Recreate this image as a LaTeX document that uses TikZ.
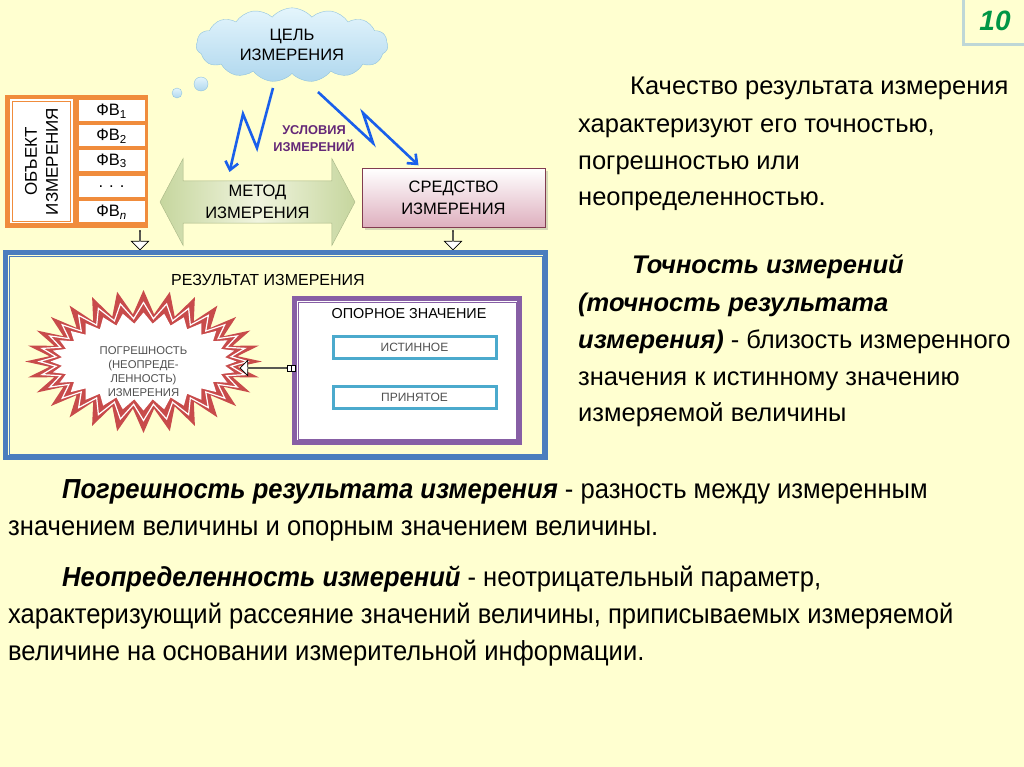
\documentclass[tikz,border=0pt]{standalone}
\usepackage{fontspec}
\setmainfont{Liberation Sans}
\newfontfamily\narrowfont[FakeStretch=0.93]{Liberation Sans}
\usetikzlibrary{arrows.meta,positioning,shapes.symbols,shapes.arrows,shadows,calc}
\definecolor{slidebg}{RGB}{255,255,208}
\definecolor{objorange}{RGB}{240,140,60}
\definecolor{zzblue}{RGB}{25,95,235}
\definecolor{condpurple}{RGB}{100,40,120}
\definecolor{resblue}{RGB}{75,125,190}
\definecolor{oporpurple}{RGB}{135,95,165}
\definecolor{valcyan}{RGB}{75,170,205}
\definecolor{errred}{RGB}{200,75,75}
\definecolor{pagegreen}{RGB}{0,150,70}
\definecolor{pageframe}{RGB}{190,215,215}
\definecolor{cloudtop}{RGB}{228,245,252}
\definecolor{cloudbot}{RGB}{175,215,238}
\definecolor{cloudline}{RGB}{145,195,222}
\definecolor{methgreen}{RGB}{198,214,158}
\definecolor{methlight}{RGB}{240,244,222}
\definecolor{toolpink}{RGB}{222,175,190}
\definecolor{toolline}{RGB}{130,60,80}
\definecolor{txtgray}{RGB}{80,80,80}
\newcommand{\fs}[2]{\fontsize{#1}{#2}\selectfont}
\tikzset{
  objcell/.style={fill=white, inner sep=0pt},
  fvcell/.style={objcell, minimum width=66pt, minimum height=21pt, font=\fs{16.5}{18}},
  valbox/.style={draw=valcyan, line width=3pt, fill=white, minimum width=163pt,
    minimum height=22pt, font=\fs{12}{14}, text=txtgray},
  zigzag/.style={zzblue, line width=2.6pt, line join=miter,
    -{Straight Barb[length=8pt,width=13pt]}},
  downarrow/.style={single arrow, draw, fill=white, line width=0.7pt, rotate=-90,
    minimum height=19pt, minimum width=17pt, single arrow head extend=4.5pt, inner sep=0pt},
  burst/.style={starburst, starburst points=28, random starburst=0, inner sep=0pt},
  bodytext/.style={anchor=base west, inner sep=0pt, font=\fs{25.5}{30}},
  lowtext/.style={anchor=base west, inner sep=0pt, font=\narrowfont\fs{27.5}{32}},
}
\begin{document}
\begin{tikzpicture}[x=1pt, y=-1pt, >=Stealth]
  \fill[slidebg] (0,0) rectangle (1024,767);
  \useasboundingbox (0,0) rectangle (1024,767);
  % page number
  \draw[pageframe, line width=3pt] (963,0) -- (963,45) -- (1024,45);
  \node[text=pagegreen, font=\bfseries\itshape\fs{28}{28}] (pgnum) at (995,21) {10};

  % goal cloud
  \node[cloud, cloud puffs=15, cloud puff arc=100, aspect=2.6, draw=cloudline, top color=cloudtop,
    bottom color=cloudbot, minimum width=192pt, minimum height=72pt, align=center,
    font=\fs{16.5}{20}] (goal) at (292,45) {ЦЕЛЬ\\ИЗМЕРЕНИЯ};
  \node[circle, draw=cloudline, top color=cloudtop, bottom color=cloudbot,
    minimum size=14pt, inner sep=0pt] (bub1) at (201,84) {};
  \node[circle, draw=cloudline, top color=cloudtop, bottom color=cloudbot,
    minimum size=10pt, inner sep=0pt] (bub2) at (177,93) {};

  % object of measurement
  \fill[objorange] (5,95) rectangle (148,228);
  \node[objcell, minimum width=63pt, minimum height=124pt] (obj) at (41.5,161.5) {};
  \draw[objorange, line width=0.8pt] ($(obj.south west)+(2.5,-2.5)$) rectangle ($(obj.north east)+(-2.5,2.5)$);
  \node[rotate=90, align=center, font=\fs{17}{21}] (objtxt) at (obj) {ОБЪЕКТ\\ИЗМЕРЕНИЯ};
  \node[fvcell] (fv1) at (111.5,111) {ФВ\textsubscript{1}};
  \node[fvcell] (fv2) at (111.5,136) {ФВ\textsubscript{2}};
  \node[fvcell] (fv3) at (111.5,161) {ФВ\textsubscript{3}};
  \node[fvcell] (fvd) at (111.5,186.5) {. . .};
  \node[fvcell] (fvn) at (111.5,212) {ФВ\textsubscript{\itshape n}};

  % method and instrument
  \node[double arrow, double arrow head extend=18pt, double arrow tip angle=124,
    minimum height=195pt, minimum width=87pt, inner sep=0pt, align=center,
    left color=methgreen, right color=methgreen, middle color=methlight,
    draw=methgreen!85!black, font=\fs{16.5}{22}] (method) at (257.5,202) {МЕТОД\\ИЗМЕРЕНИЯ};
  \node[draw=toolline, top color=white, bottom color=toolpink, minimum width=183pt,
    minimum height=59pt, align=center, font=\fs{16.5}{22},
    drop shadow={opacity=0.3, shadow xshift=3pt, shadow yshift=-3pt}] (tool) at (453.5,198) {СРЕДСТВО\\ИЗМЕРЕНИЯ};

  % conditions
  \node[text=condpurple, align=center, font=\bfseries\fs{12.8}{17}] (cond) at (314,139) {УСЛОВИЯ\\ИЗМЕРЕНИЙ};
  \coordinate (zl0) at (273,88);
  \coordinate (zl1) at (257,148);
  \coordinate (zl2) at (243,114);
  \coordinate (zr0) at (318,92);
  \coordinate (zr1) at (373,143);
  \coordinate (zr2) at (363,113);
  \draw[zigzag] (zl0) -- (zl1) -- (zl2) -- ($(method.center)+(-28,-30)$);
  \draw[zigzag] (zr0) -- (zr1) -- (zr2) -- ($(tool.north)+(-35,-3)$);

  \node[downarrow] (dn1) at (140,240) {};
  \node[downarrow] (dn2) at (453,240) {};

  % result
  \node[draw=resblue, line width=5pt, minimum width=540pt, minimum height=205pt] (result) at (275.5,355) {};
  \draw[resblue, line width=1pt] ($(result.south west)+(6,-6)$) rectangle ($(result.north east)+(-6,6)$);
  \node[font=\fs{16}{18}] (restitle) at (268,280) {РЕЗУЛЬТАТ ИЗМЕРЕНИЯ};

  % reference value
  \node[draw=oporpurple, line width=5pt, fill=white, minimum width=225pt, minimum height=144pt] (opor) at (407,370.5) {};
  \draw[oporpurple, line width=1pt] ($(opor.south west)+(6,-6)$) rectangle ($(opor.north east)+(-6,6)$);
  \node[font=\fs{14.4}{16}] (oportitle) at (409,314) {ОПОРНОЕ ЗНАЧЕНИЕ};
  \node[valbox] (trueval) at (414.5,347.5) {ИСТИННОЕ};
  \node[valbox] (acceptval) at (414.5,397.5) {ПРИНЯТОЕ};

  % error
  \node[burst, fill=errred, minimum width=237pt, minimum height=143pt, starburst point height=24pt] (err) at (143.5,361.5) {};
  \node[burst, draw=white, line width=1.2pt, minimum width=208pt, minimum height=118pt, starburst point height=16pt] (errmid) at (err) {};
  \node[burst, fill=white, minimum width=186pt, minimum height=98pt, starburst point height=11pt] (errin) at (err) {};
  \node[align=center, text=txtgray, font=\fs{11.3}{14}] (errtxt) at (143.5,372) {ПОГРЕШНОСТЬ\\(НЕОПРЕДЕ-\\ЛЕННОСТЬ)\\ИЗМЕРЕНИЯ};
  \node[single arrow, draw, fill=white, line width=0.7pt, rotate=180, minimum height=47pt,
    minimum width=15pt, single arrow head extend=4pt, inner sep=0pt] (toerr) at (264,368) {};
  \node[draw, fill=white, line width=0.6pt, minimum width=8pt, minimum height=6pt, inner sep=0pt] (tail) at (291.5,368) {};
  \draw[line width=0.6pt] (tail.north) -- (tail.south);

  % text on the right
  \node[bodytext] (q1) at (630,95) {Качество результата измерения};
  \node[bodytext] (q2) at (578,133) {характеризуют его точностью,};
  \node[bodytext] (q3) at (578,170) {погрешностью или};
  \node[bodytext] (q4) at (578,206) {неопределенностью.};
  \node[bodytext] (t1) at (632,273) {\bfseries\itshape Точность измерений};
  \node[bodytext] (t2) at (578,311) {\bfseries\itshape (точность результата};
  \node[bodytext] (t3) at (578,348) {\textbf{\textit{измерения)}} - близость измеренного};
  \node[bodytext] (t4) at (578,385) {значения к истинному значению};
  \node[bodytext] (t5) at (578,421) {измеряемой величины};

  % text below
  \node[lowtext] (p1) at (62,498) {\textbf{\textit{Погрешность результата измерения}} - разность между измеренным};
  \node[lowtext] (p2) at (8,535) {значением величины и опорным значением величины.};
  \node[lowtext] (u1) at (62,586) {\textbf{\textit{Неопределенность измерений}} - неотрицательный параметр,};
  \node[lowtext] (u2) at (8,623) {характеризующий рассеяние значений величины, приписываемых измеряемой};
  \node[lowtext] (u3) at (8,660) {величине на основании измерительной информации.};
\end{tikzpicture}
\end{document}
